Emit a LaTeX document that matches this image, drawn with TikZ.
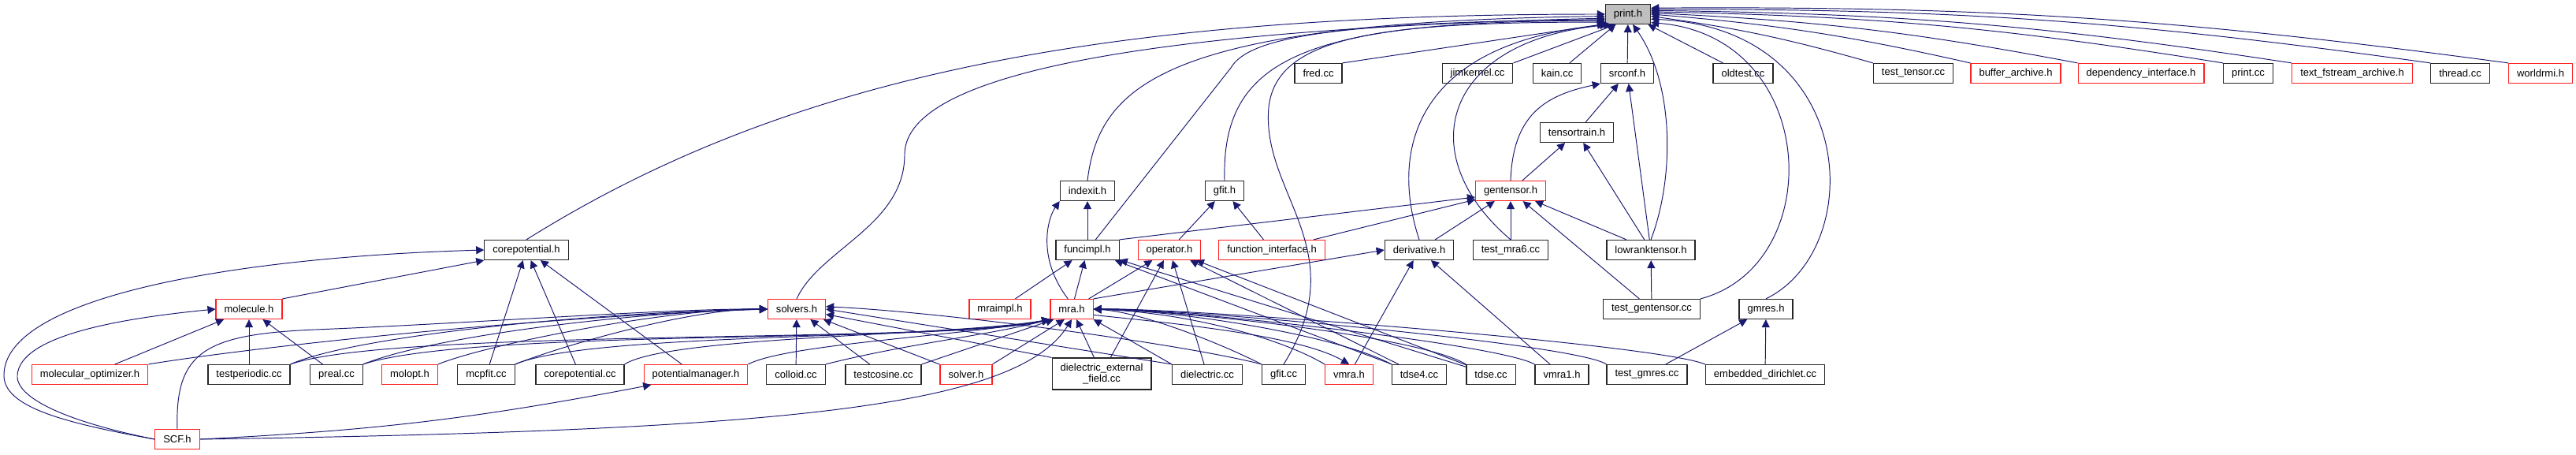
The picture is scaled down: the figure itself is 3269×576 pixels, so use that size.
\documentclass[tikz,border=0pt]{standalone}
\usepackage{fontspec}
\setmainfont{Liberation Sans}
\usetikzlibrary{arrows.meta}
\definecolor{edgeblue}{HTML}{191970}
\definecolor{rootgray}{HTML}{BFBFBF}
\definecolor{nodered}{HTML}{FF2020}
\newcommand{\filefont}{\fontsize{7.4}{8}\selectfont}
\tikzset{
	filebox/.style={draw=black!85, line width=0.7pt, fill=white, minimum height=0.5cm,
		inner xsep=0.21cm, inner ysep=0pt, font=\filefont}
}
\tikzset{
	redbox/.style={filebox, draw=nodered}
}
\tikzset{
	rootbox/.style={filebox, fill=rootgray}
}
\tikzset{
	incl/.style={draw=edgeblue, line width=0.55pt, -{Triangle[length=0.2cm,width=0.2cm]}}
}
\begin{document}
\begin{tikzpicture}[x=0.02cm, y=0.02cm]
\useasboundingbox (0,0) rectangle (3269,576);

% files
\node[rootbox] (printh) at (2066,558) {print.h};

\node[filebox] (fredcc) at (1673,483) {fred.cc};
\node[filebox] (jimkernelcc) at (1875,483) {jimkernel.cc};
\node[filebox] (kaincc) at (1976,483) {kain.cc};
\node[filebox] (srconfh) at (2065,483) {srconf.h};
\node[filebox] (oldtestcc) at (2212,483) {oldtest.cc};
\node[filebox] (testtensorcc) at (2428,483) {test\_tensor.cc};
\node[redbox] (bufferarchiveh) at (2558,483) {buffer\_archive.h};
\node[redbox] (depinterfaceh) at (2717,483) {dependency\_interface.h};
\node[filebox] (printcc) at (2853,483) {print.cc};
\node[redbox] (textfstreamh) at (2985,483) {text\_fstream\_archive.h};
\node[filebox] (threadcc) at (3122,483) {thread.cc};
\node[redbox] (worldrmih) at (3224,483) {worldrmi.h};

\node[filebox] (tensortrainh) at (2001,408) {tensortrain.h};

\node[filebox] (indexith) at (1380,334) {indexit.h};
\node[filebox] (gfith) at (1554,334) {gfit.h};
\node[redbox] (gentensorh) at (1917,334) {gentensor.h};

\node[filebox] (corepoth) at (668,259) {corepotential.h};
\node[filebox] (funcimplh) at (1380,259) {funcimpl.h};
\node[redbox] (operatorh) at (1484,259) {operator.h};
\node[redbox] (funcinterfaceh) at (1614,259) {function\_interface.h};
\node[filebox] (derivativeh) at (1801,259) {derivative.h};
\node[filebox] (testmrasixcc) at (1917,259) {test\_mra6.cc};
\node[filebox] (lowrankh) at (2095,259) {lowranktensor.h};

\node[redbox] (moleculeh) at (316,184) {molecule.h};
\node[redbox] (solversh) at (1011,184) {solvers.h};
\node[redbox] (mraimplh) at (1269,184) {mraimpl.h};
\node[redbox] (mrah) at (1360,184) {mra.h};
\node[filebox] (testgentensorcc) at (2096,184) {test\_gentensor.cc};
\node[filebox] (gmresh) at (2241,184) {gmres.h};

\node[redbox] (moloptimizerh) at (114,101) {molecular\_optimizer.h};
\node[filebox] (testperiodiccc) at (316,101) {testperiodic.cc};
\node[filebox] (prealcc) at (427,101) {preal.cc};
\node[redbox] (moloptth) at (520,101) {molopt.h};
\node[filebox] (mcpfitcc) at (617,101) {mcpfit.cc};
\node[filebox] (corepotcc) at (736,101) {corepotential.cc};
\node[redbox] (potmanagerh) at (883,101) {potentialmanager.h};
\node[filebox] (colloidcc) at (1010,101) {colloid.cc};
\node[filebox] (testcosinecc) at (1121,101) {testcosine.cc};
\node[redbox] (solverh) at (1226,101) {solver.h};
\node[filebox, align=center, minimum height=0.8cm] (dielextcc) at (1398,102) {dielectric\_external\\\_field.cc};
\node[filebox] (dielectriccc) at (1532,101) {dielectric.cc};
\node[filebox] (gfitcc) at (1629,101) {gfit.cc};
\node[redbox] (vmrah) at (1712,101) {vmra.h};
\node[filebox] (tdsefourcc) at (1801,101) {tdse4.cc};
\node[filebox] (tdsecc) at (1892,101) {tdse.cc};
\node[filebox] (vmraoneh) at (1982,101) {vmra1.h};
\node[filebox] (testgmrescc) at (2090,101) {test\_gmres.cc};
\node[filebox] (embdirichletcc) at (2240,101) {embedded\_dirichlet.cc};

\node[redbox] (scfh) at (225,19) {SCF.h};

% into print.h
\draw[incl] (corepoth.north) .. controls (1000,480) and (1400,558) .. (printh.180);
\draw[incl] (indexith.north) .. controls (1395,470) and (1480,548) .. (printh.185);
\draw[incl] (solversh.north) .. controls (1040,260) and (1148,290) .. (1148,380) .. controls (1148,490) and (1500,540) .. (printh.190);
\draw[incl] (funcimplh) -- (1562,490) .. controls (1585,530) and (1700,548) .. (printh.193);
\draw[incl] (gfith.north) .. controls (1550,500) and (1650,550) .. (printh.196);
\draw[incl] (gfitcc.north) .. controls (1720,260) and (1600,330) .. (1610,440) .. controls (1620,530) and (1750,548) .. (printh.199);
\draw[incl] (fredcc.north east) -- (printh.203);
\draw[incl] (derivativeh.north) .. controls (1765,380) and (1790,520) .. (printh.207);
\draw[incl] (testmrasixcc.north) .. controls (1790,380) and (1830,525) .. (printh.212);
\draw[incl] (jimkernelcc.north east) -- (printh.220);
\draw[incl] (kaincc) -- (printh);
\draw[incl] (srconfh) -- (printh);
\draw[incl] (lowrankh.north) .. controls (2125,350) and (2125,470) .. (printh.-65);
\draw[incl] (oldtestcc) -- (printh);
\draw[incl] (testgentensorcc.north east) .. controls (2320,240) and (2310,530) .. (printh.-20);
\draw[incl] (gmresh.north) .. controls (2370,260) and (2360,540) .. (printh.-12);
\draw[incl] (testtensorcc.north west) to[bend right=4] (printh.-5);
\draw[incl] (bufferarchiveh.north west) to[bend right=4] (printh.0);
\draw[incl] (depinterfaceh.north west) to[bend right=4] (printh.3);
\draw[incl] (printcc.north west) to[bend right=4] (printh.6);
\draw[incl] (textfstreamh.north west) to[bend right=4] (printh.9);
\draw[incl] (threadcc.north west) to[bend right=4] (printh.12);
\draw[incl] (worldrmih.north west) to[bend right=4] (printh.15);

% tensors
\draw[incl] (tensortrainh) -- (srconfh);
\draw[incl] (gentensorh.north) .. controls (1920,430) and (1960,455) .. (srconfh.south west);
\draw[incl] (lowrankh) -- (srconfh);
\draw[incl] (gentensorh) -- (tensortrainh);
\draw[incl] (lowrankh) -- (tensortrainh);
\draw[incl] (funcimplh.north east) -- (gentensorh.190);
\draw[incl] (funcinterfaceh) -- (gentensorh);
\draw[incl] (derivativeh) -- (gentensorh);
\draw[incl] (testmrasixcc) -- (gentensorh);
\draw[incl] (lowrankh) -- (gentensorh);
\draw[incl] (testgentensorcc) -- (gentensorh);
\draw[incl] (testgentensorcc) -- (lowrankh);
\draw[incl] (testgmrescc) -- (gmresh);
\draw[incl] (embdirichletcc) -- (gmresh);

% mra and friends
\draw[incl] (funcimplh) -- (indexith);
\draw[incl] (mrah.110) .. controls (1315,250) and (1330,300) .. (indexith.south west);
\draw[incl] (operatorh) -- (gfith);
\draw[incl] (funcinterfaceh) -- (gfith);
\draw[incl] (mraimplh) -- (funcimplh);
\draw[incl] (mrah) -- (funcimplh);
\draw[incl] (tdsefourcc) -- (funcimplh);
\draw[incl] (tdsecc) -- (funcimplh);
\draw[incl] (mrah) -- (operatorh);
\draw[incl] (dielextcc) -- (operatorh);
\draw[incl] (dielectriccc) -- (operatorh);
\draw[incl] (tdsefourcc) -- (operatorh);
\draw[incl] (tdsecc) -- (operatorh);
\draw[incl] (mrah.north east) -- (derivativeh.west);
\draw[incl] (vmrah) -- (derivativeh);
\draw[incl] (vmraoneh) -- (derivativeh);

% corepotential and molecule
\draw[incl] (moleculeh.north east) -- (corepoth.south west);
\draw[incl] (mcpfitcc) -- (corepoth);
\draw[incl] (corepotcc) -- (corepoth);
\draw[incl] (potmanagerh) -- (corepoth);
\draw[incl] (scfh.west) .. controls (80,40) and (5,60) .. (5,100) .. controls (5,200) and (300,250) .. (corepoth.west);
\draw[incl] (scfh.west) .. controls (90,40) and (20,70) .. (22,100) .. controls (25,150) and (150,172) .. (moleculeh.west);
\draw[incl] (moloptimizerh) -- (moleculeh);
\draw[incl] (testperiodiccc) -- (moleculeh);
\draw[incl] (prealcc) -- (moleculeh);
\draw[incl] (scfh.east) to[bend right=4] (potmanagerh.193);
\draw[incl] (scfh.east) .. controls (1000,30) and (1290,60) .. (mrah.south);

% solvers.h
\draw[incl] (scfh.north) .. controls (222,130) and (260,152) .. (400,158) .. controls (600,166) and (850,185) .. (solversh.west);
\draw[incl] (moloptimizerh.north east) .. controls (350,140) and (700,175) .. (solversh.west);
\draw[incl] (testperiodiccc.north east) .. controls (450,150) and (750,180) .. (solversh.west);
\draw[incl] (prealcc.north east) .. controls (550,150) and (800,180) .. (solversh.west);
\draw[incl] (moloptth.north east) .. controls (620,140) and (850,185) .. (solversh.west);
\draw[incl] (mcpfitcc.north east) .. controls (720,140) and (880,185) .. (solversh.west);
\draw[incl] (colloidcc) -- (solversh);
\draw[incl] (testcosinecc) -- (solversh);
\draw[incl] (solverh) -- (solversh);
\draw[incl] (dielextcc.north west) -- (solversh.350);
\draw[incl] (dielectriccc.north west) -- (solversh.east);
\draw[incl] (gfitcc.north west) .. controls (1500,140) and (1200,180) .. (solversh.5);

% mra.h from the left and below
\draw[incl] (testperiodiccc.north east) .. controls (500,160) and (1200,140) .. (mrah.south west);
\draw[incl] (prealcc.north east) .. controls (600,160) and (1200,140) .. (mrah.south west);
\draw[incl] (mcpfitcc.north east) .. controls (750,155) and (1200,145) .. (mrah.south west);
\draw[incl] (corepotcc.north east) .. controls (850,150) and (1210,150) .. (mrah.south west);
\draw[incl] (potmanagerh.north east) .. controls (1000,140) and (1220,150) .. (mrah.south west);
\draw[incl] (colloidcc.north east) .. controls (1150,140) and (1250,150) .. (mrah.south west);
\draw[incl] (testcosinecc.north east) -- (mrah.210);
\draw[incl] (solverh.north east) -- (mrah.235);
\draw[incl] (dielextcc) -- (mrah);
\draw[incl] (dielectriccc.north west) -- (mrah.south east);

% mra.h from the right
\draw[incl] (gfitcc.north west) .. controls (1550,140) and (1450,180) .. (mrah.east);
\draw[incl] (vmrah.north west) .. controls (1620,150) and (1500,180) .. (mrah.east);
\draw[incl] (tdsefourcc.north west) .. controls (1700,150) and (1500,182) .. (mrah.east);
\draw[incl] (tdsecc.north west) .. controls (1800,150) and (1500,182) .. (mrah.east);
\draw[incl] (vmraoneh.north west) .. controls (1900,140) and (1500,184) .. (mrah.east);
\draw[incl] (testgmrescc.north west) .. controls (2000,140) and (1500,185) .. (mrah.east);
\draw[incl] (embdirichletcc.north west) .. controls (2100,140) and (1500,186) .. (mrah.east);
\draw[incl] (mrah.-15) .. controls (1500,165) and (1650,150) .. (vmrah.north);

\end{tikzpicture}
\end{document}
